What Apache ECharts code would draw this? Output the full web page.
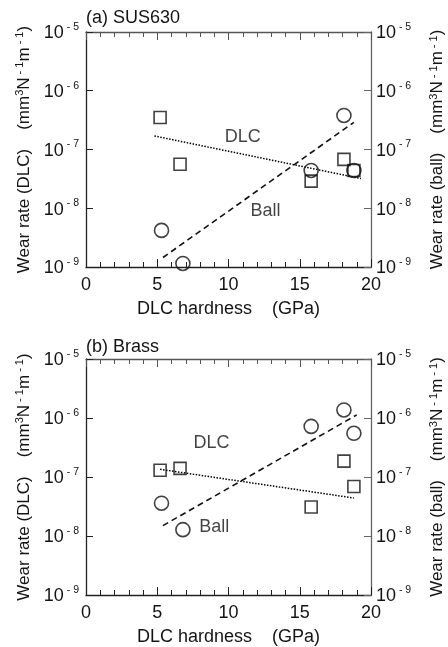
<!DOCTYPE html>
<html><head><meta charset="utf-8">
<script src="https://cdn.jsdelivr.net/npm/echarts@6/dist/echarts.min.js"></script>
<style>html,body{margin:0;padding:0;background:#fff}#c{width:448px;height:647px}</style>
</head><body><div id="c"></div>
<script>
// ---- data ----
const xTicks = [0, 5, 10, 15, 20];
const yTickExponents = [-9, -8, -7, -6, -5];
const titles = ['(a) SUS630', '(b) Brass'];
const xName = 'DLC hardness    (GPa)';

// (a) SUS630
const aDlcHard  = [5.2, 6.6, 15.8, 18.1, 18.8];
const aDlcWear  = [3.5e-7, 5.6e-8, 2.9e-8, 6.8e-8, 4.4e-8];
const aBallHard = [5.3, 6.8, 15.8, 18.1, 18.8];
const aBallWear = [4.2e-9, 1.15e-9, 4.4e-8, 3.8e-7, 4.4e-8];
const aDlcFitX  = [4.8, 19.3];
const aDlcFitY  = [1.7e-7, 3.2e-8];
const aBallFitX = [5.4, 18.8];
const aBallFitY = [1.45e-9, 2.9e-7];
const aLabelX   = [11.0, 12.6];
const aLabelY   = [1.6e-7, 8.9e-9];

// (b) Brass
const bDlcHard  = [5.2, 6.6, 15.8, 18.1, 18.8];
const bDlcWear  = [1.3e-7, 1.4e-7, 3.1e-8, 1.86e-7, 6.9e-8];
const bBallHard = [5.3, 6.8, 15.8, 18.1, 18.8];
const bBallWear = [3.6e-8, 1.28e-8, 7.2e-7, 1.37e-6, 5.5e-7];
const bDlcFitX  = [5.2, 18.8];
const bDlcFitY  = [1.35e-7, 4.4e-8];
const bBallFitX = [5.4, 19.0];
const bBallFitY = [1.5e-8, 1.13e-6];
const bLabelX   = [8.8, 9.0];
const bLabelY   = [3.7e-7, 1.44e-8];

const labelTexts = ['DLC', 'Ball'];

// ---- chart ----
const FONT = 'Liberation Sans, Arial, sans-serif';
const TXT = '#141414';
const zip = (xs, ys) => xs.map((x, i) => [x, ys[i]]);
const tickRich = {
  b: { fontSize: 18, fontFamily: FONT, color: TXT, padding: [3, 0, 0, 0] },
  s: { fontSize: 10.5, fontFamily: FONT, color: TXT, padding: [0, 0, 10, 0] }
};
const nameRich = {
  b: { fontSize: 17, fontFamily: FONT, color: TXT },
  s: { fontSize: 11, fontFamily: FONT, color: TXT, padding: [0, 0, 8, 0] }
};
const tickFmt = v => {
  const e = Math.round(Math.log10(v));
  return '{b|10}{s| - ' + (-e) + '}';
};
const yName = kind => '{b|Wear rate (' + kind + ')    (mm}{s|3}{b|N}{s| - 1}{b|m}{s| - 1}{b|)}';

const grids = [
  { left: 86, top: 32, width: 285, height: 235, outerBoundsMode: 'none', containLabel: false },
  { left: 86, top: 359, width: 285, height: 236, outerBoundsMode: 'none', containLabel: false }
];

const xAxes = [], yAxes = [], series = [], titleArr = [];
const sets = [
  { dh: aDlcHard, dw: aDlcWear, bh: aBallHard, bw: aBallWear, dfx: aDlcFitX, dfy: aDlcFitY, bfx: aBallFitX, bfy: aBallFitY, lx: aLabelX, ly: aLabelY },
  { dh: bDlcHard, dw: bDlcWear, bh: bBallHard, bw: bBallWear, dfx: bDlcFitX, dfy: bDlcFitY, bfx: bBallFitX, bfy: bBallFitY, lx: bLabelX, ly: bLabelY }
];
const titleTops = [9, 338];

sets.forEach((d, g) => {
  titleArr.push({ text: titles[g], left: 86, top: titleTops[g], padding: 0,
    textStyle: { fontSize: 18, fontWeight: 'normal', fontFamily: FONT, color: TXT } });
  xAxes.push({
    type: 'value', gridIndex: g, position: 'bottom', min: xTicks[0], max: xTicks[xTicks.length - 1], interval: 5,
    name: xName, nameLocation: 'middle', nameGap: 33,
    nameTextStyle: { fontSize: 18, fontFamily: FONT, color: TXT },
    axisLine: { show: true, onZero: false, lineStyle: { color: '#222', width: 1.3 } },
    axisTick: { show: true, inside: true, length: 8, lineStyle: { color: '#222', width: 1 } },
    minorTick: { show: true, splitNumber: 5, length: 5, lineStyle: { color: '#222', width: 1 } },
    axisLabel: { fontSize: 18, fontFamily: FONT, color: TXT, margin: 9 },
    splitLine: { show: false }, minorSplitLine: { show: false }
  });
  xAxes.push({
    type: 'value', gridIndex: g, position: 'top', min: xTicks[0], max: xTicks[xTicks.length - 1], interval: 5,
    axisLine: { show: true, onZero: false, lineStyle: { color: '#555', width: 1.3 } },
    axisTick: { show: true, inside: true, length: 8, lineStyle: { color: '#555', width: 1 } },
    minorTick: { show: true, splitNumber: 5, length: 5, lineStyle: { color: '#555', width: 1 } },
    axisLabel: { show: false },
    splitLine: { show: false }, minorSplitLine: { show: false }
  });
  const yBase = {
    type: 'log', logBase: 10, gridIndex: g,
    min: Math.pow(10, yTickExponents[0]), max: Math.pow(10, yTickExponents[yTickExponents.length - 1]),
    nameLocation: 'middle', nameRotate: 90,
    splitLine: { show: false }
  };
  yAxes.push(Object.assign({}, yBase, {
    position: 'left', name: yName('DLC'), nameGap: 50,
    nameTextStyle: { rich: nameRich },
    axisLine: { show: true, onZero: false, lineStyle: { color: '#222', width: 1.3 } },
    axisTick: { show: true, inside: true, length: 7, lineStyle: { color: '#222', width: 1 } },
    axisLabel: { formatter: tickFmt, rich: tickRich, margin: 7 }
  }));
  yAxes.push(Object.assign({}, yBase, {
    position: 'right', name: yName('ball'), nameGap: 57,
    nameTextStyle: { rich: nameRich },
    axisLine: { show: true, onZero: false, lineStyle: { color: '#666', width: 1.3 } },
    axisTick: { show: true, inside: true, length: 7, lineStyle: { color: '#666', width: 1 } },
    axisLabel: { formatter: tickFmt, rich: tickRich, margin: 5 }
  }));
  const xb = g * 2, yl = g * 2, yr = g * 2 + 1;
  series.push({
    type: 'line', xAxisIndex: xb, yAxisIndex: yl, data: zip(d.dfx, d.dfy), symbol: 'none',
    lineStyle: { color: '#000', width: 1.5, type: [1.5, 1.5] }, z: 2
  });
  series.push({
    type: 'line', xAxisIndex: xb, yAxisIndex: yr, data: zip(d.bfx, d.bfy), symbol: 'none',
    lineStyle: { color: '#111', width: 1.6, type: [6, 4] }, z: 2
  });
  series.push({
    type: 'scatter', xAxisIndex: xb, yAxisIndex: yl, data: zip(d.dh, d.dw), symbol: 'rect', symbolSize: 12,
    itemStyle: { color: 'rgba(0,0,0,0)', borderColor: '#111', borderWidth: 1.6 }, z: 3
  });
  series.push({
    type: 'scatter', xAxisIndex: xb, yAxisIndex: yr, data: zip(d.bh, d.bw), symbol: 'circle', symbolSize: 14,
    itemStyle: { color: 'rgba(0,0,0,0)', borderColor: '#111', borderWidth: 1.6 }, z: 3
  });
  series.push({
    type: 'scatter', xAxisIndex: xb, yAxisIndex: yl, symbolSize: 1,
    itemStyle: { color: 'rgba(0,0,0,0)' },
    data: labelTexts.map((t, i) => ({ name: t, value: [d.lx[i], d.ly[i]] })),
    label: { show: true, position: 'inside', formatter: p => p.name, fontSize: 18, fontFamily: FONT, color: TXT }, z: 4
  });
});

const chart = echarts.init(document.getElementById('c'), null, { renderer: 'canvas' });
chart.setOption({
  animation: false,
  backgroundColor: '#fff',
  textStyle: { fontFamily: FONT, color: TXT },
  title: titleArr,
  grid: grids,
  xAxis: xAxes,
  yAxis: yAxes,
  series: series
});
</script>
</body></html>
